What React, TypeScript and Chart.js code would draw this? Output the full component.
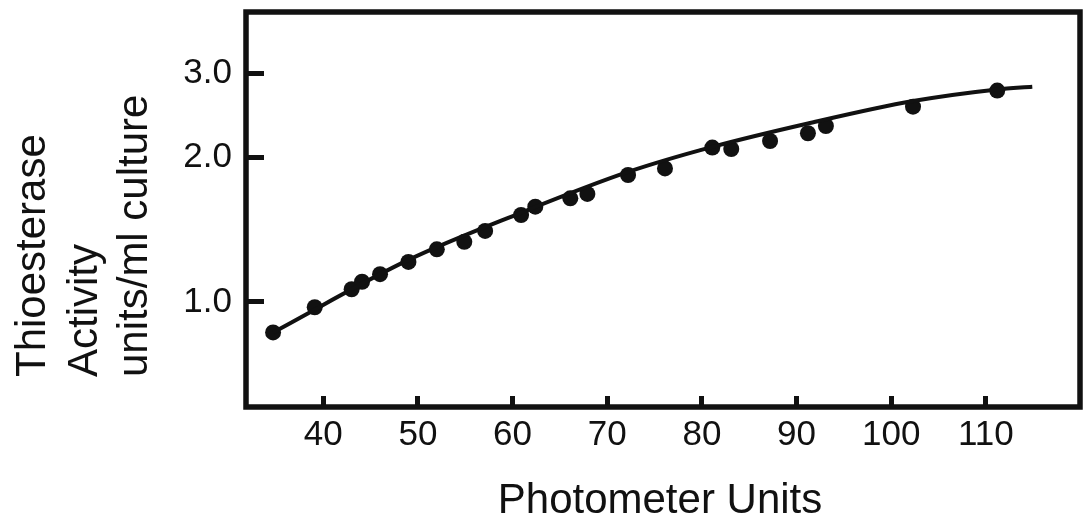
import { useEffect, useRef } from 'react';
import { Chart, registerables } from 'chart.js';

Chart.register(...registerables);

// Measured data points (Photometer Units vs Thioesterase activity, units/ml culture)
const photometerUnits = [34.7, 39.1, 43.0, 44.1, 46.0, 49.0, 52.0, 54.9, 57.1, 60.9, 62.4, 66.1, 67.9, 72.2, 76.1, 81.1, 83.1, 87.2, 91.2, 93.1, 102.3, 111.2];
const activity = [0.864, 0.975, 1.063, 1.102, 1.143, 1.212, 1.288, 1.335, 1.407, 1.519, 1.581, 1.646, 1.681, 1.841, 1.9, 2.1, 2.086, 2.168, 2.25, 2.33, 2.557, 2.762];

// Fitted curve
const curveX = [34.7, 49.0, 60.8, 72.2, 81.1, 91.2, 102.3, 111.2, 114.9];
const curveY = [0.864, 1.224, 1.533, 1.868, 2.107, 2.358, 2.627, 2.778, 2.815];

// Axis ticks and titles
const xTicks = [40, 50, 60, 70, 80, 90, 100, 110];
const yTicks = [1, 2, 3];
const xTitle = 'Photometer Units';
const yTitle = ['Thioesterase', 'Activity', 'units/ml culture'];

const INK = '#111111';
const FONT = 'Liberation Sans';

const framePlugin = {
  id: 'frame',
  afterDatasetsDraw(chart: any) {
    const { ctx, chartArea: a } = chart;
    ctx.save();
    ctx.strokeStyle = INK;
    ctx.lineWidth = 5.5;
    ctx.lineJoin = 'miter';
    ctx.strokeRect(a.left, a.top, a.right + 2 - a.left, a.bottom - a.top);
    ctx.restore();
  },
  afterDraw(chart: any) {
    const { ctx } = chart;
    ctx.save();
    ctx.fillStyle = INK;
    ctx.font = `42px "${FONT}"`;
    // x title
    ctx.textAlign = 'center';
    ctx.textBaseline = 'alphabetic';
    ctx.fillText(xTitle, 660, 513);
    // y title (rotated, start-aligned at the bottom)
    const baselines = [45, 97, 147];
    yTitle.forEach((line, i) => {
      ctx.save();
      ctx.translate(baselines[i], 377);
      ctx.rotate(-Math.PI / 2);
      ctx.textAlign = 'left';
      ctx.textBaseline = 'alphabetic';
      ctx.fillText(line, 0, 0);
      ctx.restore();
    });
    ctx.restore();
  },
};

export default function App() {
  const ref = useRef<HTMLCanvasElement>(null);

  useEffect(() => {
    const curve = curveX.map((x, i) => ({ x, y: curveY[i] }));
    const points = photometerUnits.map((x, i) => ({ x, y: activity[i] }));
    const chart = new Chart(ref.current as HTMLCanvasElement, {
      type: 'scatter',
      data: {
        datasets: [
          {
            data: curve,
            showLine: true,
            borderColor: INK,
            borderWidth: 4,
            pointRadius: 0,
            cubicInterpolationMode: 'monotone',
            fill: false,
          },
          {
            data: points,
            showLine: false,
            pointRadius: 8,
            pointBackgroundColor: INK,
            pointBorderColor: INK,
            pointBorderWidth: 0,
          },
        ],
      } as any,
      plugins: [framePlugin],
      options: {
        animation: false,
        responsive: false,
        devicePixelRatio: 1,
        layout: { padding: { left: 0, right: 0, top: 12, bottom: 0 } },
        plugins: { legend: { display: false }, tooltip: { enabled: false } },
        scales: {
          x: {
            type: 'linear',
            position: 'bottom',
            min: 31.84,
            max: 119.73,
            bounds: 'data',
            afterBuildTicks: (s: any) => {
              s.ticks = xTicks.map((v) => ({ value: v }));
            },
            afterFit: (s: any) => {
              s.height = 120;
              s.paddingLeft = 0;
              s.paddingRight = 0;
            },
            ticks: {
              callback: (v: any) => String(v),
              font: { family: FONT, size: 35 },
              color: INK,
              padding: 18.5,
              maxRotation: 0,
              autoSkip: false,
            },
            grid: {
              display: true,
              drawOnChartArea: false,
              drawTicks: true,
              tickLength: -11,
              lineWidth: 5,
              color: INK,
            },
            border: { display: false },
          },
          y: {
            type: 'logarithmic',
            position: 'left',
            min: 0.6036,
            max: 4.03,
            bounds: 'data',
            afterBuildTicks: (s: any) => {
              s.ticks = yTicks.map((v) => ({ value: v }));
            },
            afterFit: (s: any) => {
              s.width = 246;
              s.paddingTop = 0;
              s.paddingBottom = 0;
            },
            ticks: {
              callback: (v: any) => Number(v).toFixed(1),
              font: { family: FONT, size: 35 },
              color: INK,
              padding: 32,
              autoSkip: false,
            },
            grid: {
              display: true,
              drawOnChartArea: false,
              drawTicks: true,
              tickLength: -18,
              lineWidth: 5,
              color: INK,
            },
            border: { display: false },
          },
        },
      } as any,
    });
    return () => chart.destroy();
  }, []);

  return (
    <div style={{ position: 'absolute', left: 0, top: 0, width: 1086, height: 527, background: '#ffffff' }}>
      <canvas ref={ref} width={1086} height={527} style={{ display: 'block' }} />
    </div>
  );
}
